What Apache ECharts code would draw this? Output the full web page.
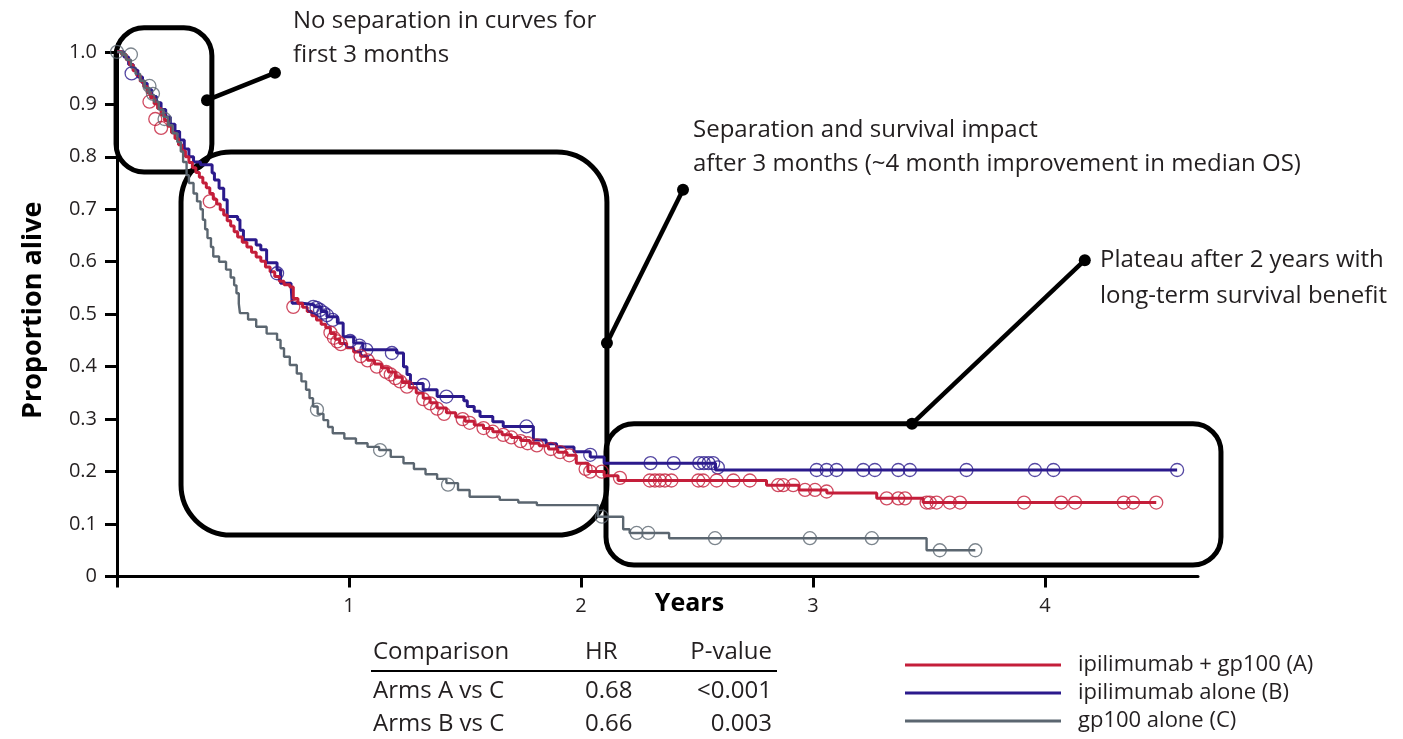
<!DOCTYPE html>
<html>
<head>
<meta charset="utf-8">
<title>Overall survival by treatment arm</title>
<script src="https://cdn.jsdelivr.net/npm/echarts@6/dist/echarts.min.js"></script>
<style>
  html, body { margin: 0; padding: 0; background: #ffffff; }
  #chart { width: 1403px; height: 739px; }
</style>
</head>
<body>
<div id="chart"></div>
<script>
// ---------- data ----------
const armNames = ['ipilimumab + gp100 (A)', 'ipilimumab alone (B)', 'gp100 alone (C)'];

// Kaplan–Meier steps: [years, proportion alive]; the value drops to s at time t
const armASteps = [
  [0,1.000],[0.02,0.995],[0.04,0.985],[0.055,0.975],[0.07,0.964],[0.085,0.955],[0.10,0.944],[0.115,0.934],
  [0.13,0.922],[0.145,0.912],[0.16,0.901],[0.175,0.892],[0.19,0.880],[0.205,0.869],[0.22,0.858],[0.235,0.846],
  [0.25,0.835],[0.265,0.823],[0.28,0.811],[0.295,0.800],[0.31,0.789],[0.325,0.779],[0.34,0.770],[0.355,0.761],
  [0.37,0.750],[0.385,0.741],[0.40,0.730],[0.415,0.719],[0.43,0.710],[0.445,0.699],[0.46,0.689],[0.475,0.678],
  [0.49,0.668],[0.505,0.657],[0.52,0.647],[0.54,0.637],[0.56,0.628],[0.58,0.618],[0.60,0.609],[0.62,0.601],
  [0.64,0.590],[0.66,0.581],[0.68,0.572],[0.70,0.563],[0.72,0.556],[0.745,0.552],[0.76,0.530],[0.78,0.521],
  [0.80,0.513],[0.82,0.505],[0.84,0.497],[0.86,0.489],[0.88,0.481],[0.90,0.474],[0.92,0.463],[0.94,0.452],
  [0.96,0.444],[0.99,0.436],[1.02,0.428],[1.05,0.420],[1.08,0.412],[1.11,0.405],[1.14,0.398],[1.17,0.390],
  [1.20,0.380],[1.23,0.370],[1.26,0.360],[1.29,0.350],[1.32,0.340],[1.35,0.331],[1.38,0.321],[1.42,0.312],
  [1.46,0.304],[1.50,0.296],[1.54,0.289],[1.58,0.282],[1.62,0.276],[1.66,0.270],[1.70,0.265],[1.74,0.259],
  [1.78,0.254],[1.82,0.249],[1.86,0.243],[1.90,0.237],[1.94,0.231],[1.98,0.216],[2.03,0.200],[2.10,0.192],
  [2.16,0.183],[2.80,0.174],[2.94,0.165],[3.06,0.159],[3.275,0.149],[3.475,0.141],[4.48,0.141]
];
const armBSteps = [
  [0,1.000],[0.03,0.990],[0.05,0.976],[0.07,0.965],[0.09,0.952],[0.11,0.940],[0.13,0.928],[0.15,0.915],
  [0.17,0.903],[0.19,0.890],[0.21,0.876],[0.23,0.862],[0.25,0.848],[0.27,0.832],[0.29,0.815],[0.31,0.800],
  [0.33,0.790],[0.36,0.785],[0.41,0.769],[0.42,0.756],[0.44,0.740],[0.46,0.718],[0.475,0.686],[0.52,0.680],
  [0.53,0.660],[0.545,0.642],[0.60,0.632],[0.62,0.623],[0.645,0.598],[0.69,0.584],[0.705,0.559],[0.75,0.556],
  [0.755,0.521],[0.80,0.518],[0.85,0.514],[0.88,0.505],[0.905,0.495],[0.95,0.483],[0.975,0.457],[1.02,0.445],
  [1.06,0.432],[1.205,0.426],[1.235,0.400],[1.25,0.385],[1.265,0.368],[1.32,0.356],[1.38,0.343],[1.495,0.335],
  [1.51,0.324],[1.54,0.315],[1.565,0.305],[1.62,0.295],[1.665,0.286],[1.795,0.260],[1.85,0.253],[1.895,0.247],
  [1.97,0.238],[2.04,0.228],[2.10,0.216],[2.58,0.203],[4.57,0.203]
];
const armCSteps = [
  [0,1.000],[0.02,0.995],[0.04,0.985],[0.06,0.970],[0.08,0.958],[0.10,0.945],[0.12,0.931],[0.14,0.918],
  [0.16,0.905],[0.18,0.890],[0.20,0.876],[0.22,0.860],[0.24,0.845],[0.26,0.828],[0.275,0.810],[0.285,0.790],
  [0.30,0.765],[0.31,0.750],[0.33,0.730],[0.345,0.715],[0.36,0.700],[0.37,0.680],[0.38,0.662],[0.39,0.645],
  [0.405,0.628],[0.415,0.610],[0.44,0.600],[0.47,0.585],[0.49,0.570],[0.505,0.555],[0.515,0.540],[0.525,0.520],
  [0.53,0.502],[0.565,0.490],[0.60,0.476],[0.645,0.463],[0.69,0.451],[0.705,0.435],[0.72,0.419],[0.745,0.403],
  [0.775,0.387],[0.795,0.372],[0.815,0.356],[0.83,0.340],[0.845,0.324],[0.865,0.310],[0.89,0.298],[0.91,0.285],
  [0.93,0.273],[0.98,0.263],[1.03,0.254],[1.08,0.247],[1.13,0.241],[1.18,0.228],[1.235,0.216],[1.28,0.205],
  [1.33,0.195],[1.38,0.186],[1.42,0.178],[1.47,0.165],[1.52,0.152],[1.65,0.146],[1.73,0.141],[1.81,0.136],
  [2.073,0.114],[2.182,0.090],[2.21,0.083],[2.38,0.073],[3.49,0.050],[3.70,0.050]
];

// censored observations: [years, proportion alive]
const armACensored = [
  [0.14,0.905],[0.165,0.872],[0.19,0.855],[0.40,0.715],[0.76,0.514],[0.92,0.465],[0.935,0.455],[0.95,0.448],
  [0.965,0.443],[1.05,0.420],[1.08,0.412],[1.12,0.400],[1.16,0.390],[1.18,0.385],[1.20,0.378],[1.22,0.372],
  [1.25,0.362],[1.32,0.338],[1.35,0.330],[1.38,0.320],[1.41,0.310],[1.49,0.300],[1.52,0.293],[1.58,0.283],
  [1.62,0.276],[1.665,0.270],[1.70,0.265],[1.74,0.258],[1.77,0.254],[1.81,0.250],[1.87,0.243],[1.91,0.237],
  [1.95,0.231],[2.02,0.205],[2.04,0.200],[2.09,0.200],[2.168,0.188],[2.297,0.183],[2.319,0.183],[2.34,0.183],
  [2.362,0.183],[2.39,0.183],[2.506,0.183],[2.527,0.183],[2.585,0.183],[2.657,0.183],[2.728,0.183],[2.85,0.174],
  [2.872,0.174],[2.915,0.174],[2.966,0.165],[3.009,0.165],[3.059,0.162],[3.318,0.149],[3.368,0.149],[3.397,0.149],
  [3.49,0.141],[3.504,0.141],[3.533,0.141],[3.59,0.141],[3.634,0.141],[3.91,0.141],[4.07,0.141],[4.13,0.141],
  [4.34,0.141],[4.38,0.141],[4.48,0.141]
];
const armBCensored = [
  [0.063,0.959],[0.69,0.578],[0.846,0.514],[0.86,0.512],[0.875,0.508],[0.89,0.503],[0.905,0.498],[0.93,0.489],
  [1.005,0.449],[1.045,0.440],[1.075,0.432],[1.185,0.426],[1.32,0.365],[1.42,0.343],[1.765,0.286],[2.04,0.232],
  [2.30,0.216],[2.40,0.216],[2.51,0.216],[2.53,0.216],[2.55,0.216],[2.57,0.216],[2.59,0.208],[3.016,0.203],
  [3.059,0.203],[3.102,0.203],[3.217,0.203],[3.267,0.203],[3.368,0.203],[3.418,0.203],[3.662,0.203],[3.957,0.203],
  [4.037,0.203],[4.57,0.203]
];
const armCCensored = [
  [0.00,1.000],[0.06,0.995],[0.14,0.935],[0.155,0.920],[0.205,0.872],[0.862,0.318],[1.134,0.241],[1.427,0.175],
  [2.09,0.114],[2.24,0.083],[2.29,0.083],[2.578,0.073],[2.987,0.073],[3.254,0.073],[3.547,0.050],[3.70,0.050]
];

const xTickValues = [0, 1, 2, 3, 4];
const xTickLabels = ['', '1', '2', '3', '4'];
const yTickValues = [0, 0.1, 0.2, 0.3, 0.4, 0.5, 0.6, 0.7, 0.8, 0.9, 1.0];
const yTickLabels = ['0', '0.1', '0.2', '0.3', '0.4', '0.5', '0.6', '0.7', '0.8', '0.9', '1.0'];

const comparisonHeader = ['Comparison', 'HR', 'P-value'];
const comparisonRows = [
  ['Arms A vs C', '0.68', '<0.001'],
  ['Arms B vs C', '0.66', '0.003']
];

const calloutText = [
  ['No separation in curves for', 'first 3 months'],
  ['Separation and survival impact', 'after 3 months (~4 month improvement in median OS)'],
  ['Plateau after 2 years with', 'long-term survival benefit']
];

// ---------- styling & layout ----------
const FONT = '"Open Sans", "Noto Sans", "DejaVu Sans", sans-serif';
const INK = '#231f20';
const armColors = ['#c41e3a', '#2b1a8c', '#5b6670'];
const armWidths = [3, 3, 2.4];

// callout frames and leader lines, in axis units (years, proportion)
const calloutBoxes = [
  { from: [-0.004, 1.046], to: [0.409, 0.771], r: 28 },
  { from: [0.276, 0.809], to: [2.112, 0.079], r: 50 },
  { from: [2.108, 0.291], to: [4.759, 0.022], r: 28 }
];
const calloutLeaders = [
  [[0.388, 0.908], [0.681, 0.960]],
  [[2.112, 0.445], [2.440, 0.737]],
  [[3.427, 0.291], [4.172, 0.603]]
];
const calloutTextPos = [
  { x: 293, y: [21, 55] },
  { x: 693, y: [130, 164] },
  { x: 1100, y: [260, 296] }
];

const chart = echarts.init(document.getElementById('chart'), null, { renderer: 'canvas' });

const drawOrder = [1, 0, 2];
const stepsByArm = [armASteps, armBSteps, armCSteps];
const censoredByArm = [armACensored, armBCensored, armCCensored];

const lineSeries = drawOrder.map(idx => ({
  name: armNames[idx],
  type: 'line',
  step: 'end',
  data: stepsByArm[idx],
  showSymbol: false,
  symbol: 'none',
  lineStyle: { color: armColors[idx], width: armWidths[idx] },
  itemStyle: { color: armColors[idx] },
  z: 3,
  silent: true
}));
const censorSeries = drawOrder.map(idx => ({
  name: armNames[idx] + ' censored',
  type: 'scatter',
  data: censoredByArm[idx],
  symbol: 'circle',
  symbolSize: 13,
  itemStyle: { color: 'rgba(0,0,0,0)', borderColor: armColors[idx], borderWidth: 1.3, opacity: 0.8 },
  z: 4,
  silent: true
}));

const option = {
  animation: false,
  backgroundColor: '#ffffff',
  textStyle: { fontFamily: FONT, color: INK },
  grid: { left: 117, right: 205, top: 44, bottom: 162.5, containLabel: false },
  legend: {
    data: armNames,
    orient: 'vertical',
    left: 905,
    top: 654,
    padding: 0,
    icon: 'rect',
    itemWidth: 156,
    itemHeight: 3,
    itemGap: 6,
    selectedMode: false,
    textStyle: { fontFamily: FONT, fontSize: 22, color: INK, lineHeight: 22, padding: [0, 0, 0, 12] }
  },
  xAxis: {
    type: 'value',
    min: 0,
    max: 4.66,
    interval: 1,
    name: 'Years',
    nameLocation: 'middle',
    nameGap: 15,
    nameMoveOverlap: false,
    nameTextStyle: { fontFamily: FONT, fontSize: 25, fontWeight: 'bold', color: '#000', padding: [0, 0, 0, 64] },
    axisLine: { show: true, onZero: false, lineStyle: { color: '#000', width: 3 } },
    axisTick: { show: true, length: 11, customValues: xTickValues, lineStyle: { color: '#000', width: 3 } },
    axisLabel: {
      customValues: xTickValues.slice(1),
      formatter: v => xTickLabels[xTickValues.indexOf(Math.round(v))],
      margin: 20, fontSize: 20, fontFamily: FONT, color: INK
    },
    splitLine: { show: false }
  },
  yAxis: {
    type: 'value',
    min: 0,
    max: 1.015,
    interval: 0.1,
    name: 'Proportion alive',
    nameLocation: 'middle',
    nameRotate: 90,
    nameGap: 70,
    nameMoveOverlap: false,
    nameTextStyle: { fontFamily: FONT, fontSize: 27, fontWeight: 'bold', color: '#000' },
    axisLine: { show: true, lineStyle: { color: '#000', width: 3 } },
    axisTick: { show: true, length: 12, customValues: yTickValues, lineStyle: { color: '#000', width: 3 } },
    axisLabel: {
      customValues: yTickValues,
      formatter: v => yTickLabels[Math.round(v * 10)],
      margin: 20, fontSize: 20, fontFamily: FONT, color: INK
    },
    splitLine: { show: false }
  },
  series: lineSeries.concat(censorSeries)
};

chart.setOption(option);

// ---------- callouts, comparison table ----------
const toPx = p => chart.convertToPixel({ gridIndex: 0 }, p);
const graphics = [];

calloutBoxes.forEach(b => {
  const p0 = toPx(b.from), p1 = toPx(b.to);
  graphics.push({
    type: 'rect', z: 1, silent: true,
    shape: { x: p0[0], y: p0[1], width: p1[0] - p0[0], height: p1[1] - p0[1], r: b.r },
    style: { fill: 'none', stroke: '#000', lineWidth: 5 }
  });
});
calloutLeaders.forEach(seg => {
  const a = toPx(seg[0]), b = toPx(seg[1]);
  graphics.push({
    type: 'line', z: 1, silent: true,
    shape: { x1: a[0], y1: a[1], x2: b[0], y2: b[1] },
    style: { stroke: '#000', lineWidth: 4.5 }
  });
  [a, b].forEach(p => graphics.push({
    type: 'circle', z: 1, silent: true,
    shape: { cx: p[0], cy: p[1], r: 6 },
    style: { fill: '#000' }
  }));
});
calloutText.forEach((lines, i) => {
  lines.forEach((txt, j) => graphics.push({
    type: 'text', z: 5, silent: true,
    x: calloutTextPos[i].x, y: calloutTextPos[i].y[j],
    style: { text: txt, fontFamily: FONT, fontSize: 24, fill: INK, align: 'left', verticalAlign: 'middle' }
  }));
});

// comparison table
const tableCols = [
  { x: 373, align: 'left' },
  { x: 585, align: 'left' },
  { x: 772, align: 'right' }
];
const tableRowsY = [652, 691, 724];
[comparisonHeader].concat(comparisonRows).forEach((row, r) => {
  row.forEach((cell, c) => graphics.push({
    type: 'text', z: 5, silent: true,
    x: tableCols[c].x, y: tableRowsY[r],
    style: { text: cell, fontFamily: FONT, fontSize: 24, fill: INK, align: tableCols[c].align, verticalAlign: 'middle' }
  }));
});
graphics.push({
  type: 'line', z: 5, silent: true,
  shape: { x1: 371, y1: 671, x2: 777, y2: 671 },
  style: { stroke: '#000', lineWidth: 2 }
});

chart.setOption({ graphic: graphics });
</script>
</body>
</html>
